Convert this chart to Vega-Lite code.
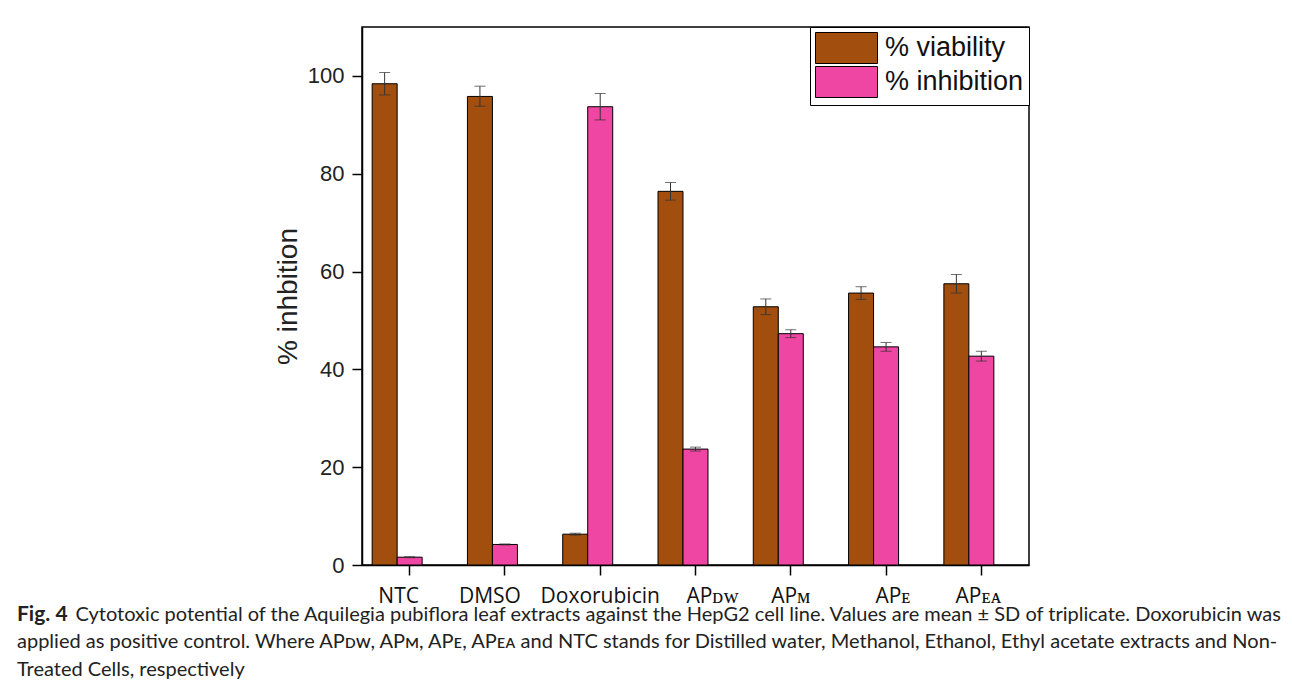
{
  "$schema": "https://vega.github.io/schema/vega-lite/v6.json",
  "width": 667,
  "height": 538,
  "autosize": {"type": "none"},
  "padding": {"left": 362, "top": 27, "right": 263, "bottom": 134},
  "background": "white",
  "title": {
    "text": "Fig. 4",
    "subtitle": [
      "applied as positive control. Where AP\u1d05\u1d21, AP\u1d0d, AP\u1d07, AP\u1d07\u1d00 and NTC stands for Distilled water, Methanol, Ethanol, Ethyl acetate extracts and Non-",
      "Treated Cells, respectively"
    ],
    "anchor": "start",
    "frame": "group",
    "orient": "top",
    "offset": 0,
    "baseline": "top",
    "dx": -345,
    "dy": 653,
    "font": "Lato",
    "fontSize": 21,
    "fontWeight": "bold",
    "color": "#222222",
    "subtitleFont": "Lato",
    "subtitleFontSize": 20,
    "subtitleFontWeight": "normal",
    "subtitleColor": "#222222",
    "subtitleLineHeight": 28,
    "subtitlePadding": 7,
    "limit": 2000
  },
  "data": {
    "values": [
      {"cat": "NTC", "series": "% viability", "value": 98.4, "lo": 96.1, "hi": 100.7},
      {"cat": "NTC", "series": "% inhibition", "value": 1.6, "lo": 1.5, "hi": 1.7},
      {"cat": "DMSO", "series": "% viability", "value": 95.8, "lo": 93.8, "hi": 97.9},
      {"cat": "DMSO", "series": "% inhibition", "value": 4.2, "lo": 4.1, "hi": 4.3},
      {"cat": "Doxorubicin", "series": "% viability", "value": 6.3, "lo": 6.1, "hi": 6.5},
      {"cat": "Doxorubicin", "series": "% inhibition", "value": 93.7, "lo": 91.0, "hi": 96.4},
      {"cat": "APDW", "series": "% viability", "value": 76.4, "lo": 74.6, "hi": 78.2},
      {"cat": "APDW", "series": "% inhibition", "value": 23.7, "lo": 23.3, "hi": 24.1},
      {"cat": "APM", "series": "% viability", "value": 52.8, "lo": 51.2, "hi": 54.4},
      {"cat": "APM", "series": "% inhibition", "value": 47.3, "lo": 46.5, "hi": 48.1},
      {"cat": "APE", "series": "% viability", "value": 55.6, "lo": 54.3, "hi": 56.9},
      {"cat": "APE", "series": "% inhibition", "value": 44.6, "lo": 43.7, "hi": 45.5},
      {"cat": "APEA", "series": "% viability", "value": 57.5, "lo": 55.6, "hi": 59.4},
      {"cat": "APEA", "series": "% inhibition", "value": 42.7, "lo": 41.7, "hi": 43.7}
    ]
  },
  "encoding": {
    "x": {
      "field": "cat",
      "type": "nominal",
      "sort": null,
      "scale": {"paddingInner": 0.213, "paddingOuter": 0.1065},
      "axis": {
        "title": "Cytotoxic potential of the Aquilegia pubiflora leaf extracts against the HepG2 cell line. Values are mean \u00b1 SD of triplicate. Doxorubicin was",
        "labelAngle": 0,
        "labelBaseline": "top",
        "labelOverlap": false,
        "labelFont": "Open Sans",
        "labelFontSize": 21,
        "labelColor": "#111111",
        "labelPadding": 10,
        "labelOffset": {
          "condition": [
            {"test": "datum.value == 'NTC'", "value": -11},
            {"test": "datum.value == 'DMSO'", "value": -15},
            {"test": "datum.value == 'APDW'", "value": 17},
            {"test": "datum.value == 'APE'", "value": 7},
            {"test": "datum.value == 'APEA'", "value": -3}
          ],
          "value": 0
        },
        "labelExpr": "datum.value == 'APDW' ? 'AP\u1d05\u1d21' : datum.value == 'APM' ? 'AP\u1d0d' : datum.value == 'APE' ? 'AP\u1d07' : datum.value == 'APEA' ? 'AP\u1d07\u1d00' : datum.value",
        "tickSize": 10,
        "tickWidth": 1.5,
        "tickColor": "black",
        "domainColor": "black",
        "domainWidth": 1.5,
        "titleX": -287,
        "titleY": 55,
        "titleAlign": "left",
        "titleAnchor": "start",
        "titleBaseline": "alphabetic",
        "titleAngle": 0,
        "titleFont": "Lato",
        "titleFontSize": 20,
        "titleFontWeight": "normal",
        "titleColor": "#222222",
        "titleLimit": 2000
      }
    },
    "xOffset": {
      "field": "series",
      "type": "nominal",
      "scale": {"domain": ["% viability", "% inhibition", "pad"], "paddingInner": 0, "paddingOuter": 0}
    }
  },
  "layer": [
    {
      "mark": {"type": "bar", "stroke": "black", "strokeWidth": 1},
      "encoding": {
        "y": {
          "field": "value",
          "type": "quantitative",
          "title": "% inhbition",
          "scale": {"domain": [0, 110], "nice": false, "zero": true},
          "axis": {
            "values": [0, 20, 40, 60, 80, 100],
            "grid": false,
            "titleFont": "Liberation Sans",
            "titleFontSize": 28,
            "titleFontWeight": "normal",
            "titleColor": "#222222",
            "titlePadding": 5,
            "labelFont": "Liberation Sans",
            "labelFontSize": 22,
            "labelColor": "#222222",
            "labelPadding": 8,
            "tickSize": 10,
            "tickWidth": 1.5,
            "tickColor": "black",
            "domainColor": "black",
            "domainWidth": 1.5
          }
        },
        "color": {
          "field": "series",
          "type": "nominal",
          "scale": {"domain": ["% viability", "% inhibition"], "range": ["#A14E0E", "#EE46A2"]},
          "legend": {
            "title": null,
            "orient": "top-right",
            "offset": 0,
            "padding": 5,
            "fillColor": "white",
            "strokeColor": "black",
            "symbolType": "M-1,-1H3V1H-1Z",
            "symbolSize": 961,
            "symbolStrokeColor": "black",
            "symbolStrokeWidth": 1,
            "symbolOpacity": 1,
            "labelFont": "Liberation Sans",
            "labelFontSize": 27,
            "labelColor": "#111111",
            "labelOffset": 38,
            "labelLimit": 400,
            "rowPadding": -2
          }
        }
      }
    },
    {
      "mark": {"type": "rule", "color": "#333333", "strokeWidth": 1},
      "encoding": {
        "y": {"field": "lo", "type": "quantitative", "title": "% inhbition"},
        "y2": {"field": "hi"}
      }
    },
    {
      "mark": {"type": "tick", "color": "#333333", "size": 11, "thickness": 1},
      "encoding": {
        "y": {"field": "hi", "type": "quantitative", "title": "% inhbition"}
      }
    },
    {
      "mark": {"type": "tick", "color": "#333333", "size": 11, "thickness": 1},
      "encoding": {
        "y": {"field": "lo", "type": "quantitative", "title": "% inhbition"}
      }
    }
  ],
  "config": {
    "view": {"stroke": "black", "strokeWidth": 1.5}
  }
}
